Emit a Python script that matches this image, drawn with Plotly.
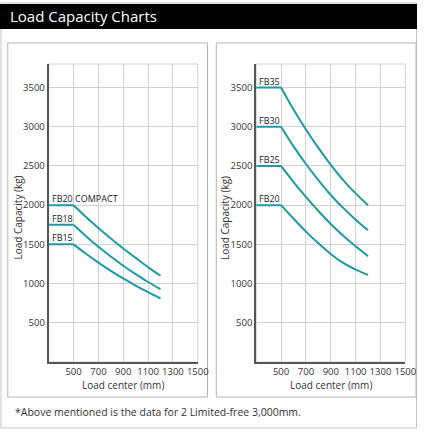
import plotly.graph_objects as go

# ---- data ----
load_center = [300, 500, 600, 700, 800, 900, 1000, 1100, 1200]

left_names = ["FB20 COMPACT", "FB18", "FB15"]
fb20_compact = [2000, 2000, 1850, 1710, 1575, 1448, 1328, 1210, 1100]
fb18 = [1750, 1750, 1605, 1470, 1345, 1228, 1120, 1020, 930]
fb15 = [1500, 1500, 1380, 1268, 1163, 1065, 975, 890, 810]

right_names = ["FB35", "FB30", "FB25", "FB20"]
fb35 = [3500, 3500, 3220, 2965, 2730, 2515, 2320, 2150, 2000]
fb30 = [3000, 3000, 2750, 2525, 2320, 2130, 1965, 1815, 1680]
fb25 = [2500, 2500, 2295, 2105, 1925, 1760, 1610, 1475, 1350]
fb20 = [2000, 2000, 1828, 1663, 1513, 1378, 1263, 1178, 1110]

x_ticks = [500, 700, 900, 1100, 1300, 1500]
y_ticks = [500, 1000, 1500, 2000, 2500, 3000, 3500]

title_text = "Load Capacity Charts"
x_title = "Load center (mm)"
y_title = "Load Capacity (kg)"
footer_text = "*Above mentioned is the data for 2 Limited-free 3,000mm."

# ---- layout helpers ----
W, H = 428, 429
FONT = "Open Sans"
TEAL = "#1c9aa5"
TXT = "#333333"
GRID = "#d2d2d2"


def px(x):
    return x / W


def py(y):
    return 1 - y / H


fig = go.Figure()

left_series = [fb20_compact, fb18, fb15]
right_series = [fb35, fb30, fb25, fb20]


def add_series(name, ys, xa, ya):
    # flat part (rated capacity up to the standard load center)
    fig.add_trace(go.Scatter(x=load_center[:2], y=ys[:2], mode="lines",
                             name=name, line=dict(color=TEAL, width=2),
                             xaxis=xa, yaxis=ya, showlegend=False,
                             hoverinfo="skip"))
    # falling part
    fig.add_trace(go.Scatter(x=load_center[1:], y=ys[1:], mode="lines",
                             name=name,
                             line=dict(color=TEAL, width=2, shape="spline",
                                       smoothing=1.0),
                             xaxis=xa, yaxis=ya, showlegend=False,
                             hoverinfo="skip"))


for name, ys in zip(left_names, left_series):
    add_series(name, ys, "x", "y")
for name, ys in zip(right_names, right_series):
    add_series(name, ys, "x2", "y2")

ydom = [py(362), py(64)]
axis_common_x = dict(range=[300, 1500], tickvals=x_ticks, showgrid=True,
                     gridcolor=GRID, gridwidth=1, showline=True,
                     linecolor="#555555", linewidth=2, ticks="",
                     zeroline=False, fixedrange=True,
                     tickfont=dict(family=FONT, size=9.5, color=TXT))
axis_common_y = dict(range=[0, 3800], tickvals=y_ticks, showgrid=True,
                     gridcolor=GRID, gridwidth=1, showline=True,
                     linecolor="#555555", linewidth=2, ticks="",
                     zeroline=False, fixedrange=True, domain=ydom,
                     tickfont=dict(family=FONT, size=9.5, color=TXT))

fig.update_layout(
    width=W, height=H,
    margin=dict(l=0, r=0, t=0, b=0),
    paper_bgcolor="white", plot_bgcolor="white",
    xaxis=dict(domain=[px(50), px(203)], anchor="y", **axis_common_x),
    yaxis=dict(anchor="x", **axis_common_y),
    xaxis2=dict(domain=[px(263), px(416)], anchor="y2", **axis_common_x),
    yaxis2=dict(anchor="x2", **axis_common_y),
    font=dict(family=FONT, color=TXT),
)

shapes = [
    # outer card
    dict(type="rect", xref="paper", yref="paper", x0=px(1), x1=px(427.5),
         y0=py(428), y1=py(3), line=dict(color="#c4c4c4", width=1),
         layer="below"),
    # header bar
    dict(type="rect", xref="paper", yref="paper", x0=0, x1=1,
         y0=py(29), y1=py(4), fillcolor="black", line=dict(width=0),
         layer="below"),
    # panels
    dict(type="rect", xref="paper", yref="paper", x0=px(8), x1=px(213),
         y0=py(397), y1=py(43), line=dict(color="#b4b4b4", width=1),
         layer="below"),
    dict(type="rect", xref="paper", yref="paper", x0=px(222), x1=px(427),
         y0=py(397), y1=py(43), line=dict(color="#b4b4b4", width=1),
         layer="below"),
    # plot frames (top / right light lines)
    dict(type="rect", xref="x domain", yref="y domain", x0=0, x1=1, y0=0,
         y1=1, line=dict(color=GRID, width=1), layer="below"),
    dict(type="rect", xref="x2 domain", yref="y2 domain", x0=0, x1=1, y0=0,
         y1=1, line=dict(color=GRID, width=1), layer="below"),
]
fig.update_layout(shapes=shapes)

annotations = [
    dict(text=title_text, xref="paper", yref="paper", x=px(8), y=py(16.5),
         xanchor="left", yanchor="middle", showarrow=False,
         font=dict(family=FONT, size=15, color="white")),
    dict(text=footer_text, xref="paper", yref="paper", x=px(13), y=py(412),
         xanchor="left", yanchor="middle", showarrow=False,
         font=dict(family=FONT, size=10.5, color=TXT)),
]
for cx in (126.5, 339.5):
    annotations.append(dict(text=x_title, xref="paper", yref="paper",
                            x=px(cx), y=py(385), xanchor="center",
                            yanchor="middle", showarrow=False,
                            font=dict(family=FONT, size=10, color=TXT)))
for cx in (18, 231):
    annotations.append(dict(text=y_title, xref="paper", yref="paper",
                            x=px(cx), y=py(218), xanchor="center",
                            yanchor="middle", showarrow=False, textangle=-90,
                            font=dict(family=FONT, size=10, color=TXT)))
for name, ys in zip(left_names, left_series):
    annotations.append(dict(text=name, xref="x", yref="y", x=load_center[0],
                            y=ys[0], xanchor="left", yanchor="bottom",
                            xshift=1, yshift=-2, showarrow=False,
                            font=dict(family=FONT, size=9, color="#222222")))
for name, ys in zip(right_names, right_series):
    annotations.append(dict(text=name, xref="x2", yref="y2", x=load_center[0],
                            y=ys[0], xanchor="left", yanchor="bottom",
                            xshift=1, yshift=-2, showarrow=False,
                            font=dict(family=FONT, size=9, color="#222222")))
fig.update_layout(annotations=annotations)

fig.write_html(
    "out.html",
    config={"displayModeBar": False},
    post_script=(
        "document.documentElement.style.margin='0';"
        "document.documentElement.style.overflow='hidden';"
        "document.body.style.margin='0';"
        "document.body.style.overflow='hidden';"
    ),
)
